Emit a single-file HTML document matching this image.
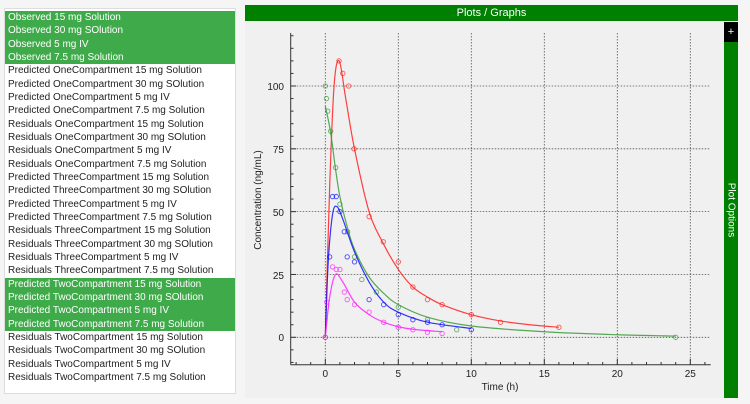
<!DOCTYPE html>
<html><head><meta charset="utf-8"><style>
body{margin:0;width:750px;height:404px;background:#f5f5f5;font-family:"Liberation Sans",sans-serif;overflow:hidden;position:relative}
#list{position:absolute;left:4px;top:8px;width:232px;height:386px;background:#fff;border:1px solid #ddd;padding-top:2px;box-sizing:border-box}
.r{height:13.33px;line-height:13.33px;font-size:10px;color:#222;padding-left:3px;white-space:nowrap}
.s{background:#3faa4a;color:#fff}
#hdr{position:absolute;left:245px;top:5px;width:493px;height:16px;background:#008000;color:#fff;font-size:11px;text-align:center;line-height:16px}
#panel{position:absolute;left:245px;top:21px;width:479px;height:377px;background:#f0f0f0}
#side{position:absolute;left:724px;top:22px;width:14px;height:376px;background:#008000}
#plus{position:absolute;left:724px;top:22px;width:14px;height:20px;background:#000;color:#fff;font-size:11px;text-align:center;line-height:20px}
#po{position:absolute;left:731px;top:210px;transform:translate(-50%,-50%) rotate(90deg);color:#fff;font-size:10px;white-space:nowrap}
svg{position:absolute;left:0;top:0}
</style></head><body>
<div id="list">
<div class="r s">Observed 15 mg Solution</div>
<div class="r s">Observed 30 mg SOlution</div>
<div class="r s">Observed 5 mg IV</div>
<div class="r s">Observed 7.5 mg Solution</div>
<div class="r">Predicted OneCompartment 15 mg Solution</div>
<div class="r">Predicted OneCompartment 30 mg SOlution</div>
<div class="r">Predicted OneCompartment 5 mg IV</div>
<div class="r">Predicted OneCompartment 7.5 mg Solution</div>
<div class="r">Residuals OneCompartment 15 mg Solution</div>
<div class="r">Residuals OneCompartment 30 mg SOlution</div>
<div class="r">Residuals OneCompartment 5 mg IV</div>
<div class="r">Residuals OneCompartment 7.5 mg Solution</div>
<div class="r">Predicted ThreeCompartment 15 mg Solution</div>
<div class="r">Predicted ThreeCompartment 30 mg SOlution</div>
<div class="r">Predicted ThreeCompartment 5 mg IV</div>
<div class="r">Predicted ThreeCompartment 7.5 mg Solution</div>
<div class="r">Residuals ThreeCompartment 15 mg Solution</div>
<div class="r">Residuals ThreeCompartment 30 mg SOlution</div>
<div class="r">Residuals ThreeCompartment 5 mg IV</div>
<div class="r">Residuals ThreeCompartment 7.5 mg Solution</div>
<div class="r s">Predicted TwoCompartment 15 mg Solution</div>
<div class="r s">Predicted TwoCompartment 30 mg SOlution</div>
<div class="r s">Predicted TwoCompartment 5 mg IV</div>
<div class="r s">Predicted TwoCompartment 7.5 mg Solution</div>
<div class="r">Residuals TwoCompartment 15 mg Solution</div>
<div class="r">Residuals TwoCompartment 30 mg SOlution</div>
<div class="r">Residuals TwoCompartment 5 mg IV</div>
<div class="r">Residuals TwoCompartment 7.5 mg Solution</div>
</div>
<div id="hdr">Plots / Graphs</div>
<div id="panel"></div>
<div id="side"></div><div id="plus">+</div><div id="po">Plot Options</div>
<svg width="750" height="404" id="sv" font-family="Liberation Sans, sans-serif">
<g font-size="10" fill="#222" text-anchor="end">
<text x="284" y="90">100</text><text x="284" y="153">75</text><text x="284" y="216">50</text><text x="284" y="279">25</text><text x="284" y="341">0</text>
</g>
<g font-size="10" fill="#222" text-anchor="middle">
<text x="325.3" y="377">0</text><text x="398.3" y="377">5</text><text x="471.3" y="377">10</text><text x="544.3" y="377">15</text><text x="617.3" y="377">20</text><text x="690.3" y="377">25</text>
<text x="500" y="390">Time (h)</text>
<text transform="translate(261,200) rotate(-90)">Concentration (ng/mL)</text>
</g>
<g id="ax"></g><g id="cv"></g>
</svg>
<script>
var X=t=>325.3+t*14.6, Y=v=>337.3-v*2.513;
var ax='',i;
for(i=0;i<=25;i+=5){ax+=`<line x1="${X(i)}" y1="33" x2="${X(i)}" y2="364.7" stroke="#555" stroke-dasharray="1.5,1.5" stroke-width="0.8"/>`;}
for(i=0;i<=100;i+=25){ax+=`<line x1="290.7" y1="${Y(i)}" x2="710.7" y2="${Y(i)}" stroke="#555" stroke-dasharray="1.5,1.5" stroke-width="0.8"/>`;}
ax+=`<line x1="290.7" y1="33" x2="290.7" y2="364.7" stroke="#333"/><line x1="290.7" y1="364.7" x2="710.7" y2="364.7" stroke="#333"/>`;
for(i=-10;i<=120;i+=5){var y=Y(i);if(y<33||y>364)continue;ax+=`<line x1="290.7" y1="${y}" x2="${i%25==0?296:293.5}" y2="${y}" stroke="#333"/>`;}
for(i=-2;i<=26;i++){var x=X(i);if(x<291||x>710)continue;ax+=`<line x1="${x}" y1="364.7" x2="${x}" y2="${i%5==0?359:362}" stroke="#333"/>`;}
document.getElementById('ax').innerHTML=ax;
function path(p){var s='';for(var k=0;k<p.length;k++){var a=p[Math.max(k-1,0)],b=p[k],c=p[k+1],d=p[Math.min(k+2,p.length-1)];if(!c){break}
if(k==0)s+='M'+X(b[0])+','+Y(b[1]);
var c1=[b[0]+(c[0]-a[0])/6,b[1]+(c[1]-a[1])/6],c2=[c[0]-(d[0]-b[0])/6,c[1]-(d[1]-b[1])/6];
s+=` C${X(c1[0])},${Y(c1[1])} ${X(c2[0])},${Y(c2[1])} ${X(c[0])},${Y(c[1])}`;}return s;}
var S=[
['#ff2020',[[0,0],[0.3,60],[0.6,100],[0.95,110],[1.4,95],[2,75],[3,50],[4,37],[5,27],[6,20],[7,16],[8,13],[10,9],[12,6.5],[14,5],[16,4]],
 [[0,0],[0.94,110],[1.2,105],[1.6,100],[1.97,75],[3,48],[3.97,38],[5,30],[6,20],[7,15],[8,13],[10,9],[12,6],[16,4]]],
['#3a9a3a',[[0,92],[0.35,82],[0.7,67],[1,56],[1.5,44],[2,35],[3,24],[4,17.5],[5,13],[7,8],[10,4.5],[15,2.2],[20,1],[24,0.5]],
 [[0,100],[0.08,95],[0.17,90],[0.37,82],[0.71,67.5],[1,53],[1.53,42],[2,32],[2.5,23],[3.5,18],[5,12],[7,7],[9,3],[24,0]]],
['#1010ff',[[0,0],[0.2,30],[0.5,49],[0.8,52],[1.2,47],[2,34],[3,22],[4,14],[5,10],[7,6],[10,3.5]],
 [[0.3,32],[0.5,56],[0.75,56],[1,50],[1.3,42],[1.5,32],[2,30],[3,15],[4,13],[5,9],[6,7],[7,6],[8,5],[10,3]]],
['#ff20ff',[[0,0],[0.3,16],[0.7,25],[1.2,22],[2,14],[3,9],[4,6],[5,4.2],[6,3.2],[8,2.2]],
 [[0,0],[0.1,14],[0.5,28],[0.75,27],[1,27],[1.3,18],[1.5,15],[2,13],[3,10],[4,6],[5,4],[6,3],[7,2],[8,1.5]]]];
var cv='';S.forEach(s=>{cv+=`<path d="${path(s[1])}" fill="none" stroke="${s[0]}" stroke-width="1.2" opacity="0.85"/>`;
s[2].forEach(p=>{cv+=`<circle cx="${X(p[0])}" cy="${Y(p[1])}" r="2.2" fill="none" stroke="${s[0]}" stroke-width="0.9" opacity="0.75"/>`;});});
document.getElementById('cv').innerHTML=cv;
</script>
</body></html>
